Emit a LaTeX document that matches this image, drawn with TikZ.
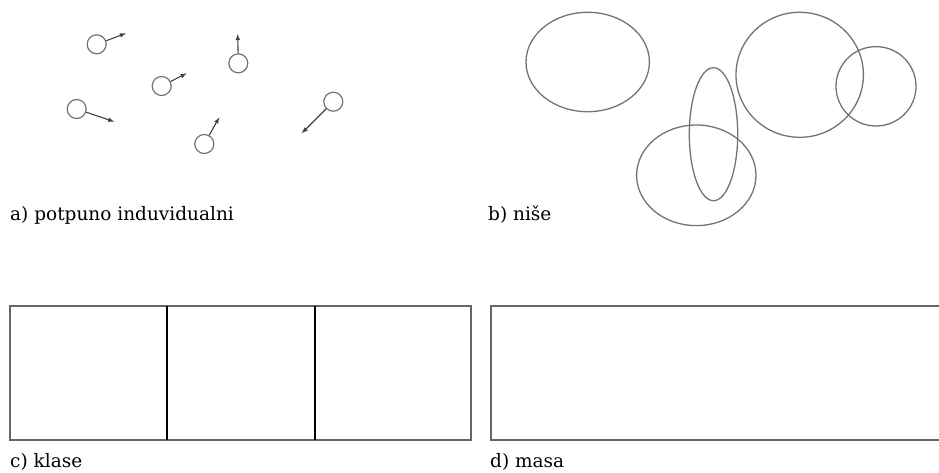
\documentclass[tikz,border=0pt]{standalone}
\usepackage{fontspec}
\setmainfont{DejaVu Serif}
\begin{document}
\begin{tikzpicture}[x=1pt, y=-1pt, >=latex, font=\fontsize{18.5}{22}\selectfont,
    particle/.style={circle, draw=gray!90!black, line width=1.2pt, minimum size=19pt, inner sep=0pt},
    niche/.style={draw=gray!90!black, line width=1.3pt},
    label/.style={anchor=base west, inner sep=0pt}]

    % Rahmen
    \useasboundingbox (0,0) rectangle (939,472);

    % a) Teilchen mit Pfeilen
    \foreach \i/\cx/\cy/\tx/\ty in {1/96.7/44.3/126/33.3, 2/161.7/86/186.7/73.3,
        3/238.3/63.3/237.7/34, 4/76.7/109/114.3/121.7,
        5/204.3/144/219.3/117.3, 6/333.3/101.7/301.7/133.3} {
            \node[particle] (p\i) at (\cx,\cy) {};
            \coordinate (t\i) at (\tx,\ty);
            \draw[->, line width=1.1pt, gray!50!black] (p\i) -- (t\i);
        }
    \node[label] (la) at (10,220) {a) potpuno induvidualni};

    % b) Nischen
    \draw[niche] (587.7,62) ellipse [x radius=61.7, y radius=49.7];
    \draw[niche] (713.5,134.2) ellipse [x radius=24.2, y radius=66.5];
    \draw[niche] (696.3,175.3) ellipse [x radius=59.7, y radius=50.3];
    \draw[niche] (799.7,74.8) ellipse [x radius=63.7, y radius=62.5];
    \draw[niche] (876,86.3) ellipse [x radius=40, y radius=39.7];
    \node[label] (lb) at (488,220) {b) niše};

    % c) Klassen
    \draw[gray!80!black, line width=1.6pt] (10,306) rectangle (471,440);
    \foreach \x in {167,315} {
            \draw[black, line width=1.4pt] (\x,306) -- (\x,440);
        }
    \node[label] (lc) at (10,467) {c) klase};

    % d) Masse
    \draw[gray!80!black, line width=1.6pt] (491,306) rectangle (950,440);
    \node[label] (ld) at (490,467) {d) masa};

\end{tikzpicture}
\end{document}
